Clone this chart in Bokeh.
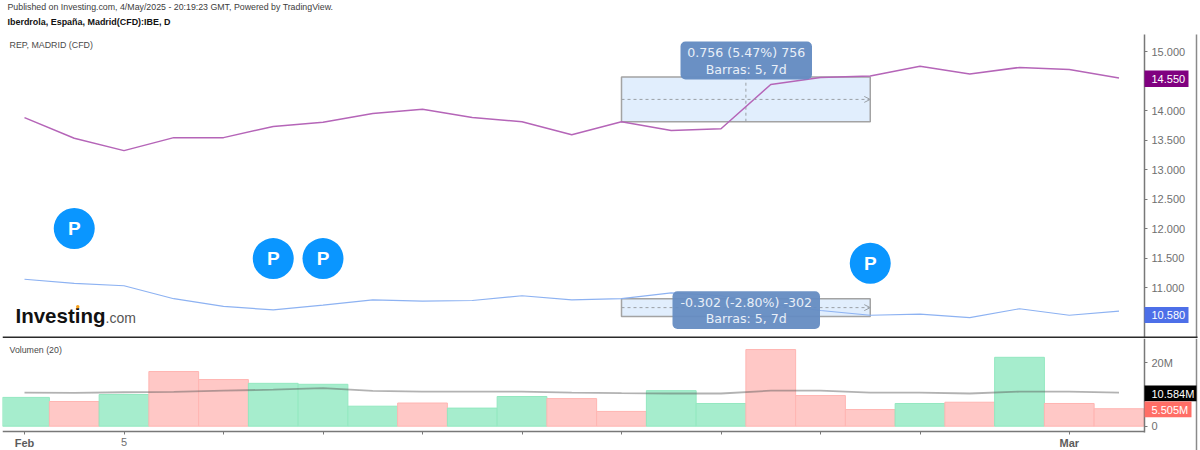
from bokeh.plotting import figure
from bokeh.layouts import column
from bokeh.models import Label, BoxAnnotation, Arrow, OpenHead, Range1d, FixedTicker, ColumnDataSource
from bokeh.core.properties import value
from bokeh.embed import file_html
from bokeh.resources import INLINE

# ---- data ----
rep = [13.88, 13.53, 13.32, 13.54, 13.54, 13.73, 13.80, 13.95, 14.02, 13.88, 13.81, 13.59,
       13.81, 13.66, 13.69, 14.44, 14.56, 14.585, 14.75, 14.62, 14.73, 14.695, 14.55]
ibe = [11.14, 11.07, 11.03, 10.81, 10.68, 10.62, 10.70, 10.79, 10.77, 10.78, 10.86, 10.79,
       10.81, 10.91, 10.86, 10.72, 10.61, 10.53, 10.55, 10.49, 10.64, 10.53, 10.60]
volume = [9.07, 7.78, 9.98, 17.22, 14.7, 13.5, 13.2, 6.3, 7.3, 5.7, 9.35, 8.7,
          4.65, 11.2, 7.15, 24.15, 9.65, 5.25, 7.15, 7.55, 21.7, 7.15, 5.505]
vol_up = [1, 0, 1, 0, 0, 1, 1, 1, 0, 1, 1, 0, 0, 1, 1, 0, 0, 0, 1, 0, 1, 0, 0]
vol_ma = [10.6, 10.5, 10.7, 10.8, 11.2, 11.5, 12.0, 11.1, 10.9, 10.9, 10.9, 10.6,
          10.4, 10.3, 10.3, 11.2, 11.2, 10.6, 10.6, 10.3, 10.9, 10.9, 10.584]
pin_x = [1, 5, 6, 17]
pin_y = [12.0, 11.49, 11.49, 11.41]
measure_x = [12, 17]
measure_rep = [13.81, 14.566]
measure_ibe = [10.508, 10.81]
price_ticks = [11, 11.5, 12, 12.5, 13, 13.5, 14, 14.5, 15]
idx = list(range(len(rep)))
time_ticks = [0, 2, 4, 6, 8, 10, 12, 14, 16, 18, 21]

# ---- layout constants ----
W, H1, H2 = 1198, 338, 112
FL, AXX, EDGE = 2, 1144, 1196
STEP = 49.75
x2i = lambda x: (x - 24) / STEP
xr = lambda: Range1d(x2i(FL), x2i(W))
SANS = "Liberation Sans"
GREY = "#6f6f6f"
AXIS = "#787878"
TIP = "#658cc2"
TIPTEXT = "#e8eff8"


def lab(p, x, y, text, size="11px", color=GREY, style="normal", align="left", font=SANS, **kw):
    p.add_layout(Label(x=x, y=y, x_units=kw.pop("x_units", "canvas"), y_units="canvas", text=text,
                       text_font=font, text_font_size=size, text_color=color,
                       text_font_style=style, text_align=align, text_baseline="middle", **kw))


def box(p, l, r, t, b, color, alpha=1.0, radius=0, level="annotation"):
    p.add_layout(BoxAnnotation(left=l, right=r, top=t, bottom=b, left_units="canvas", right_units="canvas",
                               top_units="canvas", bottom_units="canvas", fill_color=color, fill_alpha=alpha,
                               line_color=None, border_radius=radius, level=level, editable=False))


def style_axis(a):
    a.axis_line_color = AXIS
    a.axis_line_width = 1.5
    a.major_tick_line_color = AXIS
    a.major_tick_out = 3
    a.major_tick_in = 0
    a.minor_tick_line_color = None
    a.major_label_standoff = 4
    a.major_label_text_font = SANS
    a.major_label_text_font_size = "11px"
    a.major_label_text_color = GREY


# ---- price pane ----
y2v = lambda y: 15 - (y - 51) / 59
p = figure(width=W, height=H1, x_range=xr(), y_range=Range1d(y2v(H1), y2v(0)), y_axis_location="right",
           x_axis_location=None, toolbar_location=None, output_backend="svg", min_border_left=FL,
           min_border_right=0, min_border_top=0, min_border_bottom=0, outline_line_color=None,
           background_fill_color="white", border_fill_color="white")
p.grid.visible = False
ax = p.yaxis[0]
ax.fixed_location = x2i(AXX)
ax.ticker = FixedTicker(ticks=price_ticks)
ax.bounds = (y2v(H1), y2v(34))
ax.major_label_overrides = {t: f"{t:.3f}" for t in price_ticks}
style_axis(ax)

for lo, hi in (measure_rep, measure_ibe):
    mid = (lo + hi) / 2
    p.quad(left=measure_x[0], right=measure_x[1], bottom=lo, top=hi, fill_color="#e1eefd",
           line_color="#a3a3a3", line_width=1.5)
    p.add_layout(Arrow(x_start=measure_x[0], y_start=mid, x_end=measure_x[1], y_end=mid,
                       line_color="#9aa0a6", line_dash="3 3", line_width=1,
                       end=OpenHead(size=6, line_color="#9aa0a6", line_width=1)))
    p.line([sum(measure_x) / 2] * 2, [lo, hi], line_color="#9aa0a6", line_dash="3 3", line_width=1)

p.line(idx, ibe, line_color="#8db2f2", line_width=1.2)
p.line(idx, rep, line_color="#b565b8", line_width=1.5)
p.scatter(pin_x, pin_y, size=41, color="#0a96ff", line_color=None)
p.text(pin_x, pin_y, text=["P"] * 4, text_color="white", text_font=value(SANS),
       text_font_style="bold", text_font_size="19px", text_align="center", text_baseline="middle")
p.line([x2i(EDGE)] * 2, [y2v(H1), y2v(34)], line_color="#8a8a8a", line_width=1.5)

# tooltips
box(p, 680, 811.5, 79, 41, TIP, 0.97, 5)
lab(p, 745.7, 52, "0.756 (5.47%) 756", "12.6px", TIPTEXT, align="center", font="DejaVu Sans")
lab(p, 745.7, 68.5, "Barras: 5, 7d", "12.6px", TIPTEXT, align="center", font="DejaVu Sans")
box(p, 672, 819.5, 328.5, 290.7, TIP, 0.95, 5)
lab(p, 745.7, 301.5, "-0.302 (-2.80%) -302", "12.6px", TIPTEXT, align="center", font="DejaVu Sans")
lab(p, 745.7, 318, "Barras: 5, 7d", "12.6px", TIPTEXT, align="center", font="DejaVu Sans")

# header
lab(p, 7, 6.5, "Published on Investing.com, 4/May/2025 - 20:19:23 GMT, Powered by TradingView.", "8.8px", "#3c3c3c")
lab(p, 7, 21.5, "Iberdrola, España, Madrid(CFD):IBE, D", "8.95px", "#111111", "bold")
lab(p, 9, 44.5, "REP, MADRID (CFD)", "8.85px", "#4a4a4a")

# logo
lab(p, 15, 314.5, "Investing", "20.5px", "#111111", "bold")
lab(p, 105, 317, ".com", "14px", "#555555")
box(p, 75.5, 79, 308, 304.5, "#f7a11a", 1, 2, "overlay")

# price labels
box(p, 1144, 1188, 86.5, 70, "#800080")
lab(p, 1151, 78, "14.550", "11px", "white")
box(p, 1144, 1188, 322.5, 306.5, "#4d6fe8")
lab(p, 1151, 314.5, "10.580", "11px", "white")

# separator
box(p, FL, 1197, H1, 336, "#2a2a2a")

# ---- volume pane ----
ZERO, PXM = 425.7 - 338, 3.175
v2 = lambda y: (ZERO - y) / PXM
q = figure(width=W, height=H2, x_range=xr(), y_range=Range1d(v2(H2), v2(0)), y_axis_location="right",
           toolbar_location=None, output_backend="svg", min_border_left=FL, min_border_right=0,
           min_border_top=0, min_border_bottom=0, outline_line_color=None,
           background_fill_color="white", border_fill_color="white")
q.grid.visible = False
src = ColumnDataSource(dict(
    x=idx, top=volume,
    fill=["#a6edcd" if u else "#ffc8c6" for u in vol_up],
    edge=["#93e8c0" if u else "#ffb5b2" for u in vol_up],
))
q.vbar(x="x", top="top", bottom=0, width=1, fill_color="fill", line_color="edge", source=src)
q.line(idx, vol_ma, line_color="#555555", line_alpha=0.45, line_width=1.8)
q.line([x2i(EDGE)] * 2, [v2(H2), v2(0)], line_color="#8a8a8a", line_width=1.5)

ya = q.yaxis[0]
ya.fixed_location = x2i(AXX)
ya.bounds = (v2(93.5), v2(0))
ya.ticker = FixedTicker(ticks=[0, 20])
ya.major_label_overrides = {0: "0", 20: "20M"}
style_axis(ya)

xa = q.xaxis[0]
xa.fixed_location = v2(93)
xa.bounds = (x2i(FL), x2i(AXX))
xa.ticker = FixedTicker(ticks=time_ticks)
xa.major_label_overrides = {t: ("5" if t == 2 else "") for t in time_ticks}
style_axis(xa)
xa.major_label_standoff = 3

lab(q, 0, 104, "Feb", "11px", "#5c5c5c", "bold", "center", x_units="data")
lab(q, 21, 104, "Mar", "11px", "#5c5c5c", "bold", "center", x_units="data")
lab(q, 9, 11, "Volumen (20)", "8.8px", "#4a4a4a")

box(q, 1144, 1196, 62.7, 47, "#000000")
lab(q, 1151, 55, "10.584M", "11px", "white")
box(q, 1144, 1191, 78.7, 63, "#ff6e66")
lab(q, 1151, 71, "5.505M", "11px", "white")

page = column(p, q, spacing=0)
open("out.html", "w").write(file_html(page, INLINE))
